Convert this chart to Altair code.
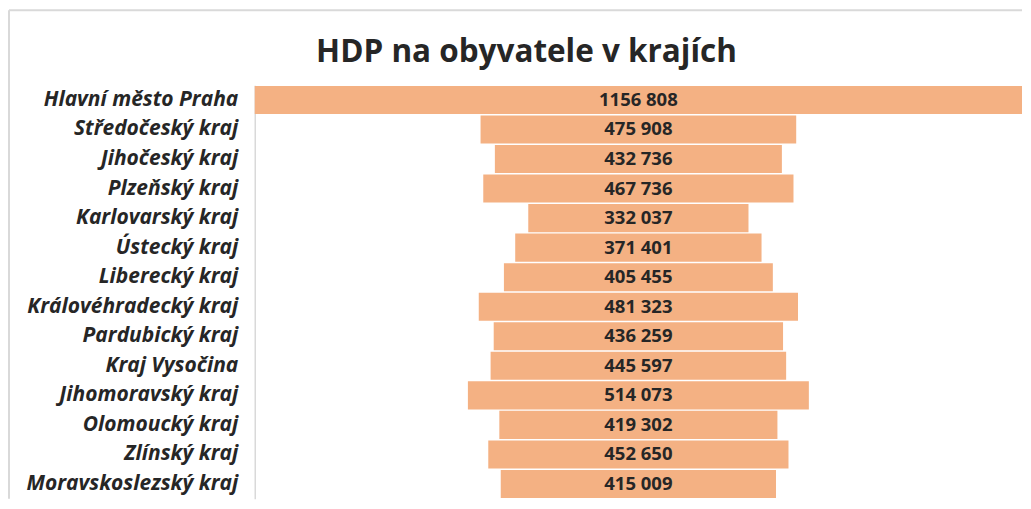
import altair as alt
import pandas as pd

regions = [
    "Hlavní město Praha", "Středočeský kraj", "Jihočeský kraj", "Plzeňský kraj",
    "Karlovarský kraj", "Ústecký kraj", "Liberecký kraj", "Královéhradecký kraj",
    "Pardubický kraj", "Kraj Vysočina", "Jihomoravský kraj", "Olomoucký kraj",
    "Zlínský kraj", "Moravskoslezský kraj",
]
values = [1156808, 475908, 432736, 467736, 332037, 371401, 405455, 481323,
          436259, 445597, 514073, 419302, 452650, 415009]
title_text = "HDP na obyvatele v krajích"

W, H = 768, 414
half = max(values) / 2

df = pd.DataFrame({
    "kraj": regions,
    "hdp": values,
    "lo": [-v / 2 for v in values],
    "hi": [v / 2 for v in values],
    "label": [f"{v // 1000} {v % 1000:03d}" for v in values],
})

FONT = "Open Sans"
TXT = "#262626"

yenc = alt.Y("kraj:N", sort=regions, title=None,
             scale=alt.Scale(paddingInner=0.05, paddingOuter=0.025),
             axis=alt.Axis(labelFont=FONT, labelFontSize=21, labelFontWeight="bold",
                           labelFontStyle="italic", labelColor=TXT, labelPadding=17,
                           ticks=False, domainColor="#d9d9d9", domainWidth=1.5,
                           labelLimit=400))

base = alt.Chart(df)
bars = base.mark_bar(color="#F4B183").encode(
    y=yenc,
    x=alt.X("lo:Q", scale=alt.Scale(domain=[-half, half], nice=False, zero=False), axis=None),
    x2="hi:Q",
)
labels = base.mark_text(font=FONT, fontSize=18.5, fontWeight="bold", color=TXT).encode(
    y=alt.Y("kraj:N", sort=regions),
    x=alt.value(W / 2),
    text="label:N",
)

deco = pd.DataFrame({"t": [title_text]})
title = alt.Chart(deco).mark_text(font=FONT, fontSize=31.5, fontWeight="bold", color=TXT,
                                  baseline="alphabetic", align="center").encode(
    x=alt.value(272), y=alt.value(-23), text="t:N")
top_rule = alt.Chart(deco).mark_rule(color="#d9d9d9", strokeWidth=2).encode(
    x=alt.value(-246), x2=alt.value(W), y=alt.value(-75))
left_rule = alt.Chart(deco).mark_rule(color="#d9d9d9", strokeWidth=2).encode(
    x=alt.value(-246), y=alt.value(-75), y2=alt.value(H))

chart = alt.layer(top_rule, left_rule, bars, labels, title).properties(
    width=W, height=H,
    padding={"left": 0, "top": 1, "right": 0, "bottom": 0},
).configure_view(stroke=None)

chart.save("out.html", embed_options={"renderer": "svg", "actions": False})
